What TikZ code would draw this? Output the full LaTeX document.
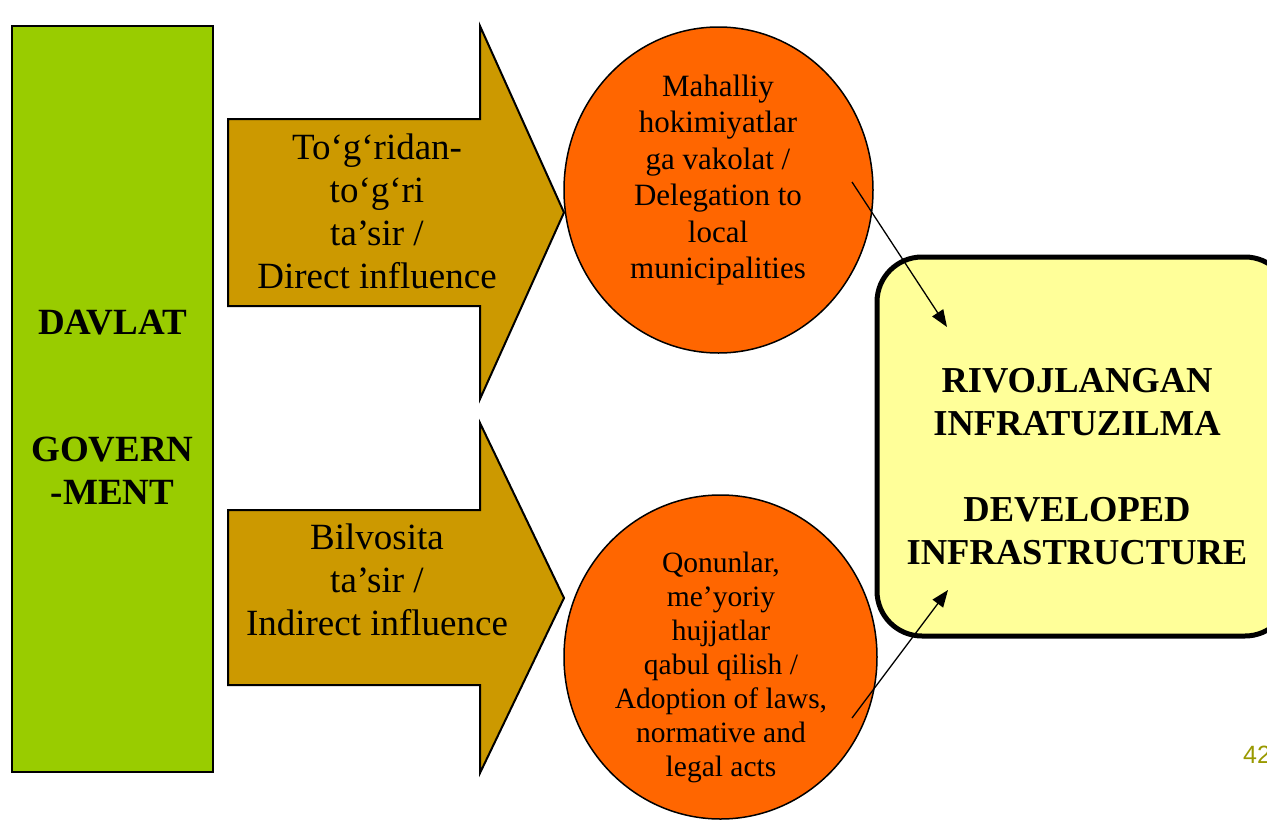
\documentclass[tikz,border=0pt]{standalone}
\usepackage{fontspec}
\setmainfont{Liberation Serif}
\newfontfamily\numfont{Liberation Sans}
\usetikzlibrary{shapes.geometric,arrows.meta}
\definecolor{govgreen}{HTML}{99CC00}
\definecolor{arrowgold}{HTML}{CC9900}
\definecolor{ellorange}{HTML}{FF6600}
\definecolor{boxyellow}{HTML}{FFFF99}
\definecolor{pagenum}{HTML}{999900}
\tikzset{
  govbox/.style={draw=black, line width=2pt, fill=govgreen, minimum width=201pt, minimum height=746pt, inner sep=0pt},
  blockarrow/.style={draw=black, line width=2pt, fill=arrowgold, line join=miter},
  ellbox/.style={ellipse, draw=black, line width=1.5pt, fill=ellorange, inner sep=0pt},
  resultbox/.style={draw=black, line width=5pt, fill=boxyellow, rounded corners=45pt, minimum width=413pt, minimum height=379pt, inner sep=0pt},
  bigtext/.style={align=center, font=\fontsize{37}{43}\selectfont},
  boldtext/.style={align=center, font=\fontsize{36.5}{43}\selectfont\bfseries},
  elltextA/.style={align=center, font=\fontsize{31}{36.5}\selectfont},
  elltextB/.style={align=center, font=\fontsize{29.5}{34}\selectfont},
  link/.style={draw=black, line width=1.3pt, -{Triangle[length=17pt,width=13pt]}},
}
\begin{document}
\begin{tikzpicture}[x=1pt,y=-1pt]
\useasboundingbox (0,0) rectangle (1267,825);
\begin{scope}
\clip (0,0) rectangle (1267,825);
% government box
\node[govbox] (gov) at (112.5,399) {};
\node[boldtext, font=\fontsize{37}{43}\selectfont\bfseries] (govtext) at (112.5,407) {DAVLAT\\[84pt]GOVERN\\-MENT};
% block arrows
\path[blockarrow] (228,119) -- (480,119) -- (480,26) -- (564,212.5) -- (480,399) -- (480,306) -- (228,306) -- cycle;
\node[bigtext] (directtext) at (377,211) {To‘g‘ridan-\\to‘g‘ri\\ta’sir /\\Direct influence};
\path[blockarrow] (228,510) -- (480,510) -- (480,423) -- (564,598) -- (480,773) -- (480,685) -- (228,685) -- cycle;
\node[bigtext] (indirecttext) at (377,580) {Bilvosita\\ta’sir /\\Indirect influence};
% ellipses
\node[ellbox, minimum width=309pt, minimum height=326pt] (e1) at (718.5,190) {};
\node[elltextA] (e1text) at (718,180) {Mahalliy\\hokimiyatlar\\ga vakolat /\\Delegation to\\local\\municipalities};
\node[ellbox, minimum width=313pt, minimum height=324pt] (e2) at (720.5,657) {};
\node[elltextB] (e2text) at (721,667) {Qonunlar,\\me’yoriy\\hujjatlar\\qabul qilish /\\Adoption of laws,\\normative and\\legal acts};
% result box
\node[resultbox] (res) at (1083.5,446.5) {};
\node[boldtext] (restext) at (1077,467) {RIVOJLANGAN\\INFRATUZILMA\\[43pt]DEVELOPED\\INFRASTRUCTURE};
% connectors
\coordinate (c1s) at (852,182);
\coordinate (c1e) at (947,327);
\coordinate (c2s) at (852,718);
\coordinate (c2e) at (948,590);
\draw[link] (c1s) -- (c1e);
\draw[link] (c2s) -- (c2e);
% page number
\node[anchor=base west, inner sep=0pt, text=pagenum, font=\numfont\fontsize{25}{30}\selectfont] (pnum) at (1243,763) {42};
\end{scope}
\end{tikzpicture}
\end{document}
